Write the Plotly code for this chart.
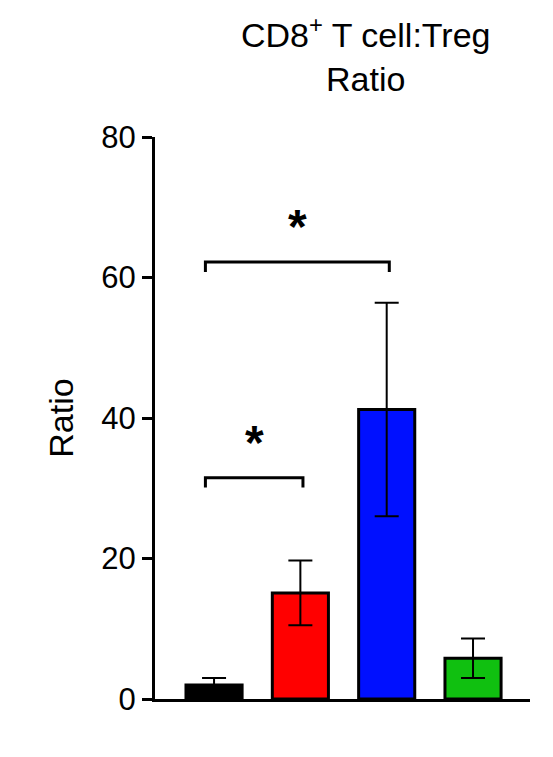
import plotly.graph_objects as go

groups = [0, 1, 2, 3]
means = [2.0, 15.1, 41.2, 5.8]
errors = [1.0, 4.6, 15.2, 2.8]
colors = ["#000000", "#ff0000", "#0010ff", "#10c010"]
y_ticks = [0, 20, 40, 60, 80]

# significance brackets: (left group, right group, height, star label)
brackets = [(0, 1, 31.5, "*"), (0, 2, 62.2, "*")]

fig = go.Figure(go.Bar(
    x=groups, y=means, width=0.65,
    marker=dict(color=colors, line=dict(color="black", width=3)),
    error_y=dict(type="data", array=errors, visible=True, color="black", thickness=2, width=12),
))

for left, right, h, label in brackets:
    xl, xr = left - 0.1, right + 0.03
    fig.add_shape(type="path", path=f"M {xl},{h-1.4} L {xl},{h} L {xr},{h} L {xr},{h-1.4}",
                  line=dict(color="black", width=3))
    fig.add_annotation(x=(xl + xr) / 2, y=h + 1.0, text="<b>" + label + "</b>", showarrow=False,
                       yanchor="bottom", font=dict(size=48, color="black", family="Arial"))

fig.add_annotation(text="CD8<sup>+</sup> T cell:Treg<br>Ratio", xref="paper", yref="paper",
                   x=0.56, y=1.0, yshift=128, xanchor="center", yanchor="top", showarrow=False,
                   font=dict(size=34, color="black", family="Arial"))

fig.update_layout(
    width=553, height=757, plot_bgcolor="white", paper_bgcolor="white",
    margin=dict(l=147, r=31, t=129, b=66), showlegend=False,
    font=dict(family="Arial", color="black"),
)
fig.update_xaxes(range=[-0.684, 3.66], showticklabels=False, ticks="", showgrid=False,
                 showline=True, linecolor="black", linewidth=3, zeroline=False)
fig.update_yaxes(range=[0, 80], tickvals=y_ticks, ticks="outside", ticklen=10, tickwidth=3,
                 tickcolor="black", tickfont=dict(size=31), showgrid=False, zeroline=False,
                 showline=True, linecolor="black", linewidth=3,
                 title=dict(text="Ratio", font=dict(size=34), standoff=18))

fig.write_html("out.html")
